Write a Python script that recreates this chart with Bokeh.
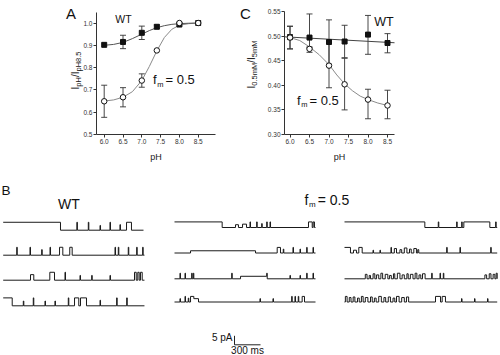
import math
from bokeh.plotting import figure
from bokeh.models import Range1d, Label, Whisker, ColumnDataSource, TeeHead, FixedTicker, NumeralTickFormatter
from bokeh.layouts import row, column
from bokeh.embed import file_html
from bokeh.resources import INLINE

# ---------------- Panel A data ----------------
a_ph = [6.0, 6.5, 7.0, 7.4, 8.0, 8.5]
a_wt = [0.902, 0.915, 0.956, 0.983, 0.993, 1.0]
a_wt_err = [0.0, 0.030, 0.030, 0.008, 0.0, 0.0]
a_fm = [0.649, 0.667, 0.742, 0.877, 1.0, 1.0]
a_fm_err = [0.072, 0.043, 0.030, 0.0, 0.0, 0.0]
a_fit_ph = [6.0, 6.25, 6.5, 6.75, 7.0, 7.2, 7.4, 7.6, 7.8, 8.0, 8.25, 8.5]
a_wt_fit = [0.900, 0.904, 0.913, 0.930, 0.950, 0.966, 0.979, 0.988, 0.994, 0.997, 0.999, 1.0]
a_fm_fit = [0.650, 0.655, 0.667, 0.692, 0.742, 0.805, 0.875, 0.935, 0.972, 0.990, 0.997, 1.0]
a_xticks = [6.0, 6.5, 7.0, 7.5, 8.0, 8.5]
a_yticks = [0.5, 0.6, 0.7, 0.8, 0.9, 1.0]

# ---------------- Panel C data ----------------
c_ph = [6.0, 6.5, 7.0, 7.4, 8.0, 8.5]
c_wt = [0.498, 0.497, 0.488, 0.489, 0.503, 0.486]
c_wt_lo = [0.474, 0.476, 0.443, 0.456, 0.463, 0.466]
c_wt_hi = [0.520, 0.545, 0.533, 0.522, 0.542, 0.505]
c_fm = [0.497, 0.474, 0.440, 0.402, 0.371, 0.359]
c_fm_lo = [0.474, 0.467, 0.395, 0.350, 0.332, 0.332]
c_fm_hi = [0.520, 0.478, 0.485, 0.455, 0.392, 0.390]
c_wt_fit_ph = [5.87, 8.68]
c_wt_fit = [0.4985, 0.4865]
c_fm_fit_ph = [6.0, 6.25, 6.5, 6.75, 7.0, 7.2, 7.4, 7.6, 7.8, 8.0, 8.25, 8.5]
c_fm_fit = [0.497, 0.491, 0.478, 0.462, 0.442, 0.421, 0.403, 0.389, 0.378, 0.371, 0.364, 0.359]
c_xticks = [6.0, 6.5, 7.0, 7.5, 8.0, 8.5]
c_yticks = [0.30, 0.35, 0.40, 0.45, 0.50, 0.55]

# ---------------- Panel B data (single-channel records) ----------------
# events: [start_ms, end_ms, fraction of unitary amplitude] relative to record start
amp_wt = 4.4   # pA
amp_fm = 3.1   # pA
scale_pa = 5     # pA
scale_ms = 300   # ms

wt_rec = [
    ([[0, 661], [850, 856], [982, 988], [1117, 1123, 0.6], [1232, 1238], [1347, 1353, 0.7], [1423, 1480]], 1619),
    ([[156, 162], [309, 315], [444, 450, 0.7], [540, 546], [650, 688], [768, 796], [1290, 1296], [1328, 1334],
      [1443, 1449], [1540, 1546], [1609, 1615]], 1630),
    ([[315, 353, 0.7], [538, 592], [713, 719], [886, 892, 0.6], [1021, 1027, 0.6], [1232, 1238, 0.6],
      [1515, 1535], [1553, 1569], [1584, 1604]], 1630),
    ([[0, 104], [232, 238, 0.6], [347, 353], [482, 488, 0.6], [597, 603, 0.6], [751, 757], [823, 872],
      [892, 961], [1117, 1123, 0.7], [1309, 1315], [1425, 1431]], 1630),
]
fm_rec_a = [
    ([[0, 550], [704, 738, 0.5], [785, 831, 0.6], [871, 877], [948, 954], [1006, 1012, 0.7], [1064, 1070],
      [1102, 1108], [1546, 1589], [1600, 1615]], 1627),
    ([[185, 935, 0.4], [1185, 1223], [1255, 1261, 0.7], [1367, 1373], [1448, 1454, 0.7], [1525, 1531],
      [1598, 1604]], 1627),
    ([[63, 69], [121, 127], [198, 204], [217, 223], [660, 666], [762, 1064, 0.45], [1064, 1070],
      [1332, 1338, 0.6], [1448, 1454, 0.6], [1525, 1531], [1598, 1604]], 1627),
    ([[63, 69, 0.6], [121, 127], [159, 165, 0.7], [185, 223], [223, 277, 0.6], [986, 992, 0.6],
      [1136, 1142, 0.6], [1352, 1358], [1390, 1396], [1428, 1434], [1473, 1500]], 1627),
]
fm_rec_b = [
    ([[0, 927], [1082, 1088], [1294, 1300], [1352, 1358], [1377, 1677], [1744, 1750]], 1762),
    ([[0, 69], [104, 138, 0.5], [165, 204], [329, 335, 0.5], [409, 415, 0.5], [536, 542], [575, 600, 0.8],
      [640, 660, 0.6], [690, 720, 0.9], [750, 770, 0.7], [800, 830, 0.8], [845, 857, 0.6], [1179, 1185],
      [1332, 1338], [1687, 1693]], 1762),
    ([[240, 260, 0.8], [285, 300, 0.6], [330, 350, 0.9], [370, 395, 0.7], [420, 440, 1.0], [470, 500, 0.8],
      [520, 540, 0.6], [565, 580, 0.9], [610, 640, 1.0], [665, 690, 0.7], [720, 735, 0.9], [760, 790, 0.8],
      [815, 835, 1.0], [860, 880, 0.7], [900, 930, 0.9], [1006, 1012], [1102, 1108], [1140, 1146],
      [1620, 1640, 0.7], [1670, 1690, 0.9], [1715, 1735, 0.8], [1750, 1762, 1.0]], 1762),
    ([[10, 30, 1.0], [55, 75, 0.8], [100, 120, 0.9], [150, 170, 0.7], [195, 215, 1.0], [240, 270, 0.8],
      [300, 320, 0.9], [345, 365, 0.7], [395, 425, 1.0], [455, 475, 0.8], [505, 530, 0.9], [560, 580, 0.7],
      [600, 630, 1.0], [660, 690, 0.8], [715, 740, 0.9], [1050, 1108], [1127, 1165], [1350, 1356, 0.6],
      [1500, 1506, 0.6], [1650, 1656, 0.6]], 1762),
]

# ---------------- layout / style constants ----------------
FONT = "Liberation Sans"
INK = "#111111"
PX_MS = 300 / 26.0
PX_PA = 5 / 9.0
CW = {"I": .278, "p": .556, "H": .722, "/": .278, ".": .278, "m": .833, "M": .833, " ": .278,
      "=": .584, "(": .333, ")": .333, "f": .278, "W": .944, "T": .611}


def text_w(s, size):
    return sum(CW.get(ch, .556) for ch in s) * size


def style_fig(p):
    p.xgrid.visible = False
    p.ygrid.visible = False
    p.outline_line_color = None
    p.background_fill_color = "white"
    p.border_fill_color = "white"


def style_axes(p, fmt_x, fmt_y, xticks, yticks, x_loc, y_loc, x_bounds, y_bounds):
    style_fig(p)
    xa, ya = p.xaxis[0], p.yaxis[0]
    xa.fixed_location = x_loc
    ya.fixed_location = y_loc
    xa.bounds = x_bounds
    ya.bounds = y_bounds
    xa.ticker = FixedTicker(ticks=xticks)
    ya.ticker = FixedTicker(ticks=yticks)
    xa.formatter = NumeralTickFormatter(format=fmt_x)
    ya.formatter = NumeralTickFormatter(format=fmt_y)
    for ax in (xa, ya):
        ax.axis_line_color = "#333333"
        ax.axis_line_width = 1
        ax.major_tick_line_color = "#333333"
        ax.major_tick_out = 3
        ax.major_tick_in = 0
        ax.minor_tick_line_color = None
        ax.major_label_text_font = FONT
        ax.major_label_text_font_size = "6.5px"
        ax.major_label_text_color = "#333333"
        ax.major_label_standoff = 1
    xa.axis_label = "pH"
    xa.axis_label_text_font = FONT
    xa.axis_label_text_font_size = "9px"
    xa.axis_label_text_font_style = "normal"
    xa.axis_label_text_color = "#222222"
    xa.axis_label_standoff = 5


def lab(p, x, y, text, size, align="left", baseline="middle", angle=0.0, color=INK):
    p.add_layout(Label(x=x, y=y, text=text, text_font=FONT, text_font_size="%.1fpx" % size,
                       text_align=align, text_baseline=baseline, angle=angle, text_color=color))


def sub_label(p, mx, my, x_px, y_px, base, sub, rest, size, sub_size):
    lab(p, mx(x_px), my(y_px), base, size)
    x2 = x_px + text_w(base, size) + 0.6
    lab(p, mx(x2), my(y_px + size * 0.38), sub, sub_size)
    x3 = x2 + text_w(sub, sub_size) + 2.0
    lab(p, mx(x3), my(y_px), rest, size)


def vlabel(p, mx, my, x_px, y_mid_px, pieces):
    total = sum(text_w(t, s) for t, s, _ in pieces)
    y = y_mid_px + total / 2.0
    for t, s, is_sub in pieces:
        xx = x_px + (2.6 if is_sub else 0.0)
        lab(p, mx(xx), my(y), t, s, align="left", baseline="middle", angle=math.pi / 2)
        y -= text_w(t, s)


def err_bars(p, xs, lo, hi):
    keep = [i for i in range(len(xs)) if hi[i] - lo[i] > 1e-9]
    src = ColumnDataSource(dict(x=[xs[i] for i in keep], lo=[lo[i] for i in keep], hi=[hi[i] for i in keep]))
    w = Whisker(source=src, base="x", lower="lo", upper="hi", dimension="height",
                line_color="#333333", line_width=0.9,
                upper_head=TeeHead(size=6, line_color="#333333", line_width=0.9),
                lower_head=TeeHead(size=6, line_color="#333333", line_width=0.9))
    p.add_layout(w)


# ================= Panel A (figure covers page x 0..236, y 0..175) =================
A_W, A_H = 236, 175
A_L, A_R, A_T, A_B = 96, 215, 12, 134
A_PX_PH, A_PX_U = 37.6, 223.0
a_x0 = 6.0 - 103.7 / A_PX_PH


def amx(px):
    return a_x0 + px / A_PX_PH


def amy(py):
    return 0.5 + (A_B - py) / A_PX_U


pA = figure(width=A_W, height=A_H, x_range=Range1d(amx(0), amx(A_W)), y_range=Range1d(amy(A_H), amy(0)),
            output_backend="svg", toolbar_location=None,
            min_border_left=0, min_border_right=0, min_border_top=0, min_border_bottom=0)
style_axes(pA, "0.0", "0.0", a_xticks, a_yticks, amy(A_B), amx(A_L),
           (amx(A_L), amx(A_R)), (amy(A_B), amy(A_T)))

pA.line(a_fit_ph, a_fm_fit, line_color="#8a8a8a", line_width=1)
pA.line(a_fit_ph, a_wt_fit, line_color="#555555", line_width=1)
err_bars(pA, a_ph, [v - e for v, e in zip(a_wt, a_wt_err)], [v + e for v, e in zip(a_wt, a_wt_err)])
err_bars(pA, a_ph, [v - e for v, e in zip(a_fm, a_fm_err)], [v + e for v, e in zip(a_fm, a_fm_err)])
pA.scatter(a_ph, a_wt, marker="square", size=5, fill_color=INK, line_color=INK)
pA.scatter(a_ph, a_fm, marker="circle", size=5.5, fill_color="white", line_color=INK, line_width=1)

lab(pA, amx(65.5), amy(12.5), "A", 15)
lab(pA, amx(123), amy(18.5), "WT", 10.5, align="center")
sub_label(pA, amx, amy, 152.5, 79, "f", "m", "= 0.5", 13, 7.5)
vlabel(pA, amx, amy, 75, 70, [("I", 10, False), ("pH", 7.5, True), ("/I", 10, False), ("pH8.5", 7.5, True)])

# ================= Panel C (figure covers page x 236..500, y 0..175) =================
C_OFF, C_W, C_H = 236, 264, 175
C_L, C_R, C_T, C_B = 284, 394, 11, 134
C_PX_PH, C_PX_U = 39.0, 492.0
c_x0 = 6.0 - (289.5 - C_OFF) / C_PX_PH


def cmx(px):
    return c_x0 + (px - C_OFF) / C_PX_PH


def cmy(py):
    return 0.30 + (C_B - py) / C_PX_U


pC = figure(width=C_W, height=C_H, x_range=Range1d(cmx(C_OFF), cmx(C_OFF + C_W)),
            y_range=Range1d(cmy(C_H), cmy(0)),
            output_backend="svg", toolbar_location=None,
            min_border_left=0, min_border_right=0, min_border_top=0, min_border_bottom=0)
style_axes(pC, "0.0", "0.00", c_xticks, c_yticks, cmy(C_B), cmx(C_L),
           (cmx(C_L), cmx(C_R)), (cmy(C_B), cmy(C_T)))

pC.line(c_fm_fit_ph, c_fm_fit, line_color="#8a8a8a", line_width=1)
pC.line(c_wt_fit_ph, c_wt_fit, line_color="#444444", line_width=1)
err_bars(pC, c_ph, c_wt_lo, c_wt_hi)
err_bars(pC, c_ph, c_fm_lo, c_fm_hi)
pC.scatter(c_ph, c_wt, marker="square", size=5, fill_color=INK, line_color=INK)
pC.scatter(c_ph, c_fm, marker="circle", size=5.5, fill_color="white", line_color=INK, line_width=1)

lab(pC, cmx(239.5), cmy(12.5), "C", 15)
lab(pC, cmx(383.5), cmy(21), "WT", 12.5, align="center")
sub_label(pC, cmx, cmy, 296.5, 99.5, "f", "m", "= 0.5", 13, 7.5)
vlabel(pC, cmx, cmy, 251, 64, [("I", 10, False), ("0.5mM", 7.5, True), ("/I", 10, False), ("5mM", 7.5, True)])

# ================= Panel B (figure covers page x 0..500, y 175..355) =================
pB = figure(width=500, height=180, x_range=Range1d(0, 500 * PX_MS), y_range=Range1d(0, 180 * PX_PA),
            output_backend="svg", toolbar_location=None,
            min_border_left=0, min_border_right=0, min_border_top=0, min_border_bottom=0)
pB.axis.visible = False
style_fig(pB)


def bmx(px):
    return px * PX_MS


def bmy(py):
    return (355 - py) * PX_PA


def trace_xy(events, t_end, base, amp, t0):
    xs, ys = [], []
    prev_b = None
    for ev in events:
        a, b = ev[0], ev[1]
        f = ev[2] if len(ev) > 2 else 1.0
        lvl = base + amp * f
        if prev_b is None:
            if a > 0:
                xs += [0, a]
                ys += [base, base]
            xs.append(a)
            ys.append(lvl)
        elif abs(a - prev_b) < 1e-9:
            xs.append(a)
            ys.append(lvl)
        else:
            xs += [prev_b, a, a]
            ys += [base, base, lvl]
        xs.append(b)
        ys.append(lvl)
        prev_b = b
    if prev_b is None:
        xs.append(0)
        ys.append(base)
    else:
        xs.append(prev_b)
        ys.append(base)
    xs.append(t_end)
    ys.append(base)
    return [t0 + x for x in xs], ys


col_x0_px = [2.7, 174.0, 344.0]
row_base_px = [[229.7, 254.7, 279.7, 305.3], [227.0, 252.5, 278.3, 301.5], [227.0, 252.5, 278.3, 301.5]]
cols = [(wt_rec, amp_wt), (fm_rec_a, amp_fm), (fm_rec_b, amp_fm)]
all_x, all_y = [], []
for ci, (recs, amp) in enumerate(cols):
    for ri, (events, t_end) in enumerate(recs):
        xs, ys = trace_xy(events, t_end, bmy(row_base_px[ci][ri]), amp, bmx(col_x0_px[ci]))
        all_x.append(xs)
        all_y.append(ys)
pB.multi_line(all_x, all_y, line_color="#1a1a1a", line_width=1.0)

# scale bar
sb_x = bmx(234)
sb_y = bmy(344.3)
pB.line([sb_x, sb_x, sb_x + scale_ms], [sb_y + scale_pa, sb_y, sb_y], line_color="#222222", line_width=1)
lab(pB, bmx(232), bmy(337), "5 pA", 10, align="right")
lab(pB, bmx(247), bmy(349.5), "300 ms", 10, align="center")

lab(pB, bmx(1), bmy(190), "B", 13.5)
lab(pB, bmx(68.5), bmy(203), "WT", 14, align="center")
sub_label(pB, bmx, bmy, 304, 199, "f", "m", "= 0.5", 14, 8)

layout = column(row(pA, pC), pB)
open("out.html", "w").write(file_html(layout, INLINE))
